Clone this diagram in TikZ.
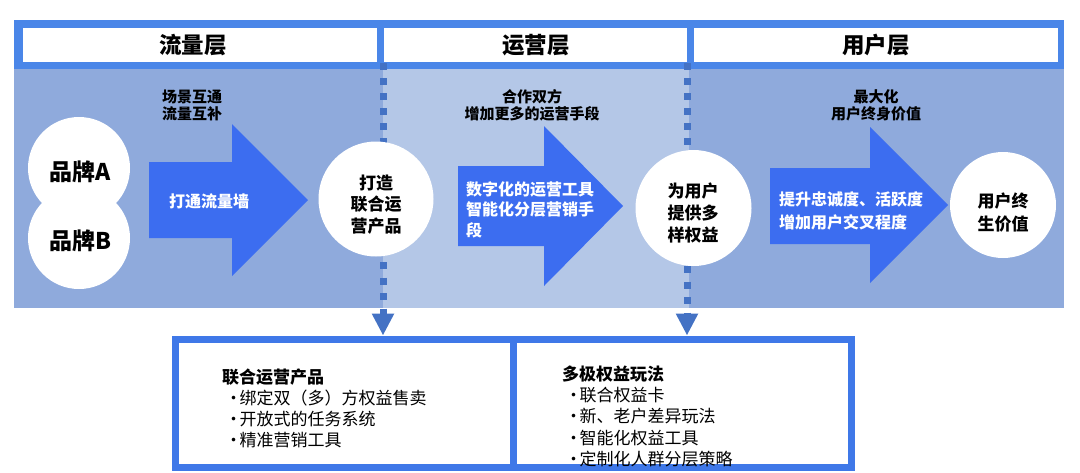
\documentclass[tikz,border=0pt]{standalone}
\usepackage{fontspec}
\setmainfont{Noto Sans CJK SC}
\usetikzlibrary{arrows.meta}
\definecolor{frameblue}{HTML}{4A86E8}
\definecolor{panelA}{HTML}{8FAADC}
\definecolor{panelB}{HTML}{B4C7E7}
\definecolor{arrowblue}{HTML}{3C6DF0}
\definecolor{dotblue}{HTML}{4472C4}
\definecolor{boxblue}{HTML}{3F78E8}
\newcommand\lbul{\makebox[17.5pt][l]{\hspace{3pt}•}}
\begin{document}
\begin{tikzpicture}[x=1pt,y=-1pt,
  circ/.style={circle,fill=white,draw=none,inner sep=0pt},
  ctext/.style={align=center,font=\fontsize{17}{21.5}\selectfont\bfseries,inner sep=0pt},
  brandtext/.style={font=\fontsize{23}{26}\selectfont\bfseries,inner sep=0pt},
  hdrbox/.style={rectangle,fill=white,draw=none,inner sep=0pt},
  hdrtext/.style={font=\fontsize{22.5}{26}\selectfont\bfseries,inner sep=0pt},
  toplabel/.style={align=center,font=\fontsize{15}{17.5}\selectfont\bfseries,inner sep=0pt},
  arrtext/.style={align=left,text=white,font=\fontsize{16}{20.5}\selectfont\bfseries,inner sep=0pt},
  bigarrow/.style={fill=arrowblue},
  dotline/.style={draw=dotblue,line width=7pt},
  bbox/.style={rectangle,draw=boxblue,line width=7pt,fill=white,inner sep=0pt},
  listtext/.style={align=left,font=\fontsize{17}{21}\selectfont,inner sep=0pt,anchor=north west}
]
\useasboundingbox (0,0) rectangle (1080,472);
\fill[white] (0,0) rectangle (1080,472);
% panels
\fill[panelA] (14,69) rectangle (383,308);
\fill[panelB] (383,69) rectangle (689,308);
\fill[panelA] (689,69) rectangle (1064,308);
% header band
\fill[frameblue] (14,20) rectangle (1064,69);
\node[hdrbox,minimum width=354pt,minimum height=34pt] (h1) at (200,45) {};
\node[hdrbox,minimum width=303pt,minimum height=34pt] (h2) at (535.5,45) {};
\node[hdrbox,minimum width=364pt,minimum height=34pt] (h3) at (876,45) {};
\node[hdrtext] (h1t) at (193,45) {流量层};
\node[hdrtext] (h2t) at (536,45) {运营层};
\node[hdrtext] (h3t) at (876,45) {用户层};
% top labels
\node[toplabel] (l1) at (192,105.5) {场景互通\\流量互补};
\node[toplabel] (l2) at (532,105.5) {合作双方\\增加更多的运营手段};
\node[toplabel] (l3) at (876,105.5) {最大化\\用户终身价值};
% big arrows
\fill[bigarrow] (149,162) -- (232,162) -- (232,124) -- (308,200) -- (232,276) -- (232,238) -- (149,238) -- cycle;
\fill[bigarrow] (458,166) -- (544,166) -- (544,126) -- (623,206) -- (544,286) -- (544,246) -- (458,246) -- cycle;
\fill[bigarrow] (770,168) -- (870,168) -- (870,127) -- (948,205) -- (870,283) -- (870,244) -- (770,244) -- cycle;
\node[arrtext] (a1t) at (209,201) {打通流量墙};
\node[arrtext,anchor=west] (a2t) at (466,209.5) {数字化的运营工具\\智能化分层营销手\\段};
\node[arrtext,anchor=west,font=\fontsize{16}{23}\selectfont\bfseries] (a3t) at (779,210.5) {提升忠诚度、活跃度\\增加用户交叉程度};
% bottom boxes
\node[bbox,minimum width=338pt,minimum height=128.5pt] (box1) at (344.5,403.25) {};
\node[bbox,minimum width=337.5pt,minimum height=128.5pt] (box2) at (682.25,403.25) {};
\node[listtext] (b1t) at (222,369) {\textbf{联合运营产品}\\\lbul 绑定双（多）方权益售卖\\\lbul 开放式的任务系统\\\lbul 精准营销工具};
\node[listtext,font=\fontsize{17}{21.3}\selectfont] (b2t) at (562,365.5) {\textbf{多极权益玩法}\\\lbul 联合权益卡\\\lbul 新、老户差异玩法\\\lbul 智能化权益工具\\\lbul 定制化人群分层策略};
% circle positions (coordinates used for dotted connectors)
\coordinate (d1top) at (383,63);
\coordinate (d2top) at (687,63);
\path (376,199) coordinate (c1pos) (693.5,208) coordinate (c2pos);
% dotted connectors (drawn under the circles)
\draw[dotline,dash pattern=on 6.5pt off 8.5pt] (d1top) -- (d1top |- 0,150);
\draw[dotline,dash pattern=on 6.5pt off 8.5pt] (d2top) -- (d2top |- 0,160);
% circles
\node[circ,minimum size=102pt] (bA) at (79,168) {};
\node[circ,minimum size=102pt] (bB) at (79,238) {};
\node[circ,minimum size=115pt] (c1) at (c1pos) {};
\node[circ,minimum size=116pt] (c2) at (c2pos) {};
\node[circ,minimum size=106pt] (c3) at (1003,205) {};
\node[brandtext] (bAt) at (80,171.5) {品牌A};
\node[brandtext] (bBt) at (80,241) {品牌B};
\node[ctext] (c1t) at (376,204.5) {打造\\联合运\\营产品};
\node[ctext,font=\fontsize{17}{22}\selectfont\bfseries] (c2t) at (693,213) {为用户\\提供多\\样权益};
\node[ctext,font=\fontsize{17}{22.5}\selectfont\bfseries] (c3t) at (1003,212.5) {用户终\\生价值};
% lower dotted connectors with arrow heads
\draw[dotline,dash pattern=on 7pt off 8.5pt,dash phase=10pt,-{Triangle[length=22pt,width=21pt]}] (d1top |- c1.south) -- (d1top |- box1.north);
\draw[dotline,dash pattern=on 7pt off 8.5pt,-{Triangle[length=22pt,width=21pt]}] (d2top |- c2.south) -- (d2top |- box2.north);
\end{tikzpicture}
\end{document}
